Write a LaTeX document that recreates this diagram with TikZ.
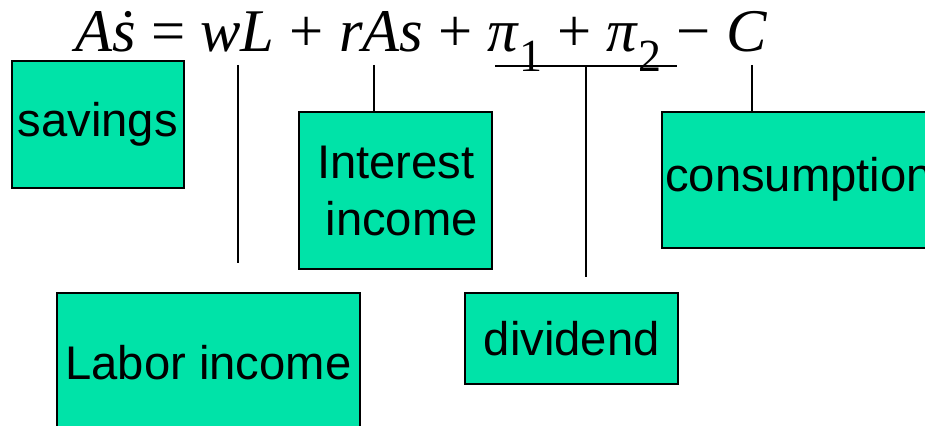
\documentclass[tikz,border=0pt]{standalone}
\usepackage{fontspec}
\setmainfont{Liberation Sans}
\newfontfamily\eqfont{Liberation Serif}
\definecolor{boxgreen}{HTML}{00E3A8}
\newcommand{\subx}[1]{\raisebox{-0.32em}{\fontsize{23}{23}\selectfont #1}}

\begin{document}
\begin{tikzpicture}[
	x=0.5pt, y=-0.5pt,
	box/.style={ draw, line width=1pt, fill=boxgreen, anchor=north west, inner sep=0pt, align=center, font=\fontsize{23.6}{28.5}\selectfont },
	link/.style={ line width=0.75pt }
]

\clip (0,0) rectangle (925,426);

% the budget equation
\node at (75,52) (eq) [anchor=base west, inner sep=0pt, font=\eqfont\fontsize{30.3}{30.3}\selectfont] {\textit{A\.{s}} = \textit{wL} + \textit{rAs} + \textit{π}\subx{1} + \textit{π}\subx{2} − \textit{C}};

% boxes
\node at (11,60) (sav) [box, minimum width=85.8pt, minimum height=63.3pt] {savings};
\node at (298.3,110.7) (intr) [box, minimum width=96.5pt, minimum height=78.8pt] {Interest\\\hspace*{0.25em}income};
\node at (661,110.7) (cons) [box, minimum width=137pt, minimum height=68pt] {consumption};
\node at (55.7,291.7) (lab) [box, minimum width=151.7pt, minimum height=70pt] {Labor income};
\node at (464.3,292.3) (div) [box, minimum width=106.5pt, minimum height=45.5pt] {dividend};

% lines from the terms
\coordinate (wl) at (238,65);
\coordinate (wlend) at (238,263);
\coordinate (ra) at (374,65);
\coordinate (pl) at (495,66);
\coordinate (pr) at (677,66);
\coordinate (pm) at (586,66);
\coordinate (pmend) at (586,277);
\coordinate (cc) at (752,65);
\draw[link] (wl) to (wlend);
\draw[link] (ra) to (ra |- intr.north);
\draw[link] (pl) to (pr);
\draw[link] (pm) to (pmend);
\draw[link] (cc) to (cc |- cons.north);

\end{tikzpicture}
\end{document}
